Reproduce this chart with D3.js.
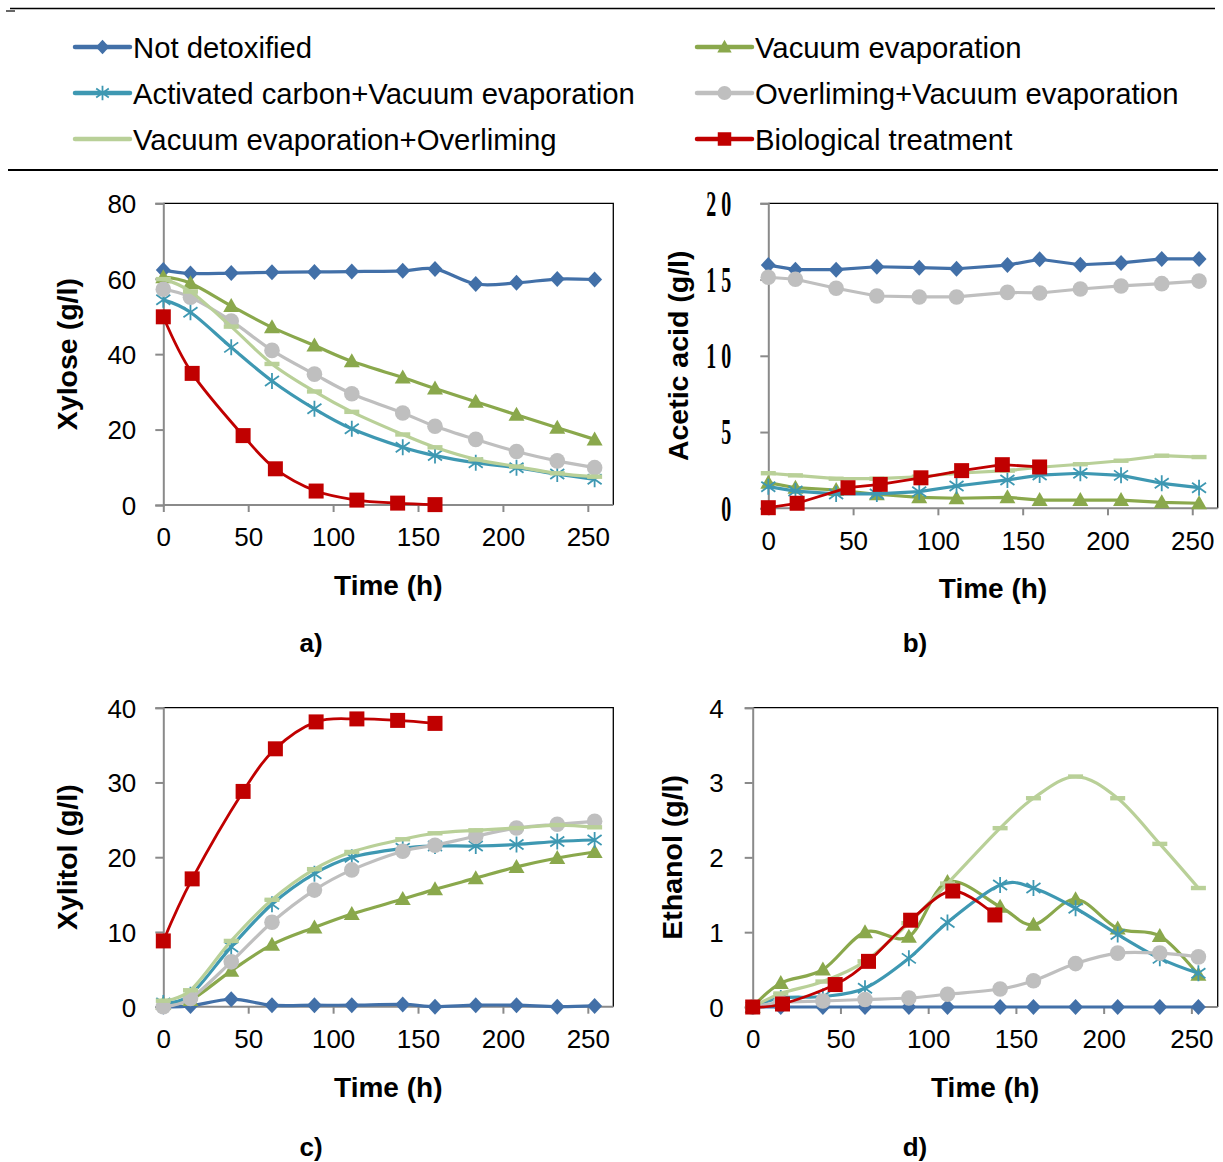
<!DOCTYPE html>
<html><head><meta charset="utf-8">
<script src="https://cdn.jsdelivr.net/npm/d3@7"></script>
<style>
html,body{margin:0;padding:0;background:#fff;}
svg{display:block;font-family:"Liberation Sans",Arial,sans-serif;}
</style></head>
<body>
<svg id="chart" width="1223" height="1162"></svg>
<script>
// ---------------- DATA ----------------
const seriesNames = ["Not detoxified","Vacuum evaporation","Activated carbon+Vacuum evaporation","Overliming+Vacuum evaporation","Vacuum evaporation+Overliming","Biological treatment"];
const timesMain = [0,16,40,64,89,111,141,160,184,208,232,254];
const timesBio  = [0,17,47,66,90,114,138,160];
const xTicks = [0,50,100,150,200,250];

// a) Xylose (g/l)
const xyloseNotDetox    = [62.3,61.4,61.5,61.7,61.8,61.9,62.1,62.6,58.6,58.9,59.9,59.8];
const xyloseVacEvap     = [60.4,58.8,52.8,47.1,42.3,38.1,33.8,30.9,27.4,23.9,20.5,17.4];
const xyloseACVacEvap   = [54.4,51.1,41.8,32.9,25.5,20.2,15.3,13.1,11.2,9.9,8.2,6.8];
const xyloseOverVacEvap = [57.2,55.1,48.8,41.0,34.7,29.5,24.4,20.9,17.4,14.2,11.7,9.9];
const xyloseVacEvapOver = [59.9,56.6,47.3,37.4,30.1,24.7,18.7,15.3,12.1,10.2,8.4,7.5];
const xyloseBio         = [49.9,34.9,18.4,9.6,3.7,1.3,0.5,0.1];
const xyloseTicks = [0,20,40,60,80];

// b) Acetic acid (g/l)
const aceticNotDetox    = [15.95,15.65,15.65,15.84,15.78,15.71,15.95,16.33,15.97,16.09,16.35,16.35];
const aceticVacEvap     = [1.68,1.35,1.2,0.92,0.72,0.66,0.72,0.54,0.54,0.54,0.39,0.33];
const aceticACVacEvap   = [1.42,1.13,0.94,0.94,1.09,1.46,1.86,2.18,2.3,2.16,1.64,1.35];
const aceticOverVacEvap = [15.15,15.02,14.43,13.92,13.86,13.86,14.16,14.12,14.38,14.58,14.73,14.9];
const aceticVacEvapOver = [2.3,2.16,1.94,1.94,2.07,2.3,2.47,2.69,2.89,3.12,3.45,3.36];
const aceticBio         = [0.04,0.33,1.35,1.57,2.0,2.47,2.86,2.71];
const aceticTicks = [0,5,10,15,20];

// c) Xylitol (g/l)
const xylitolNotDetox    = [0,0.1,1.0,0.2,0.2,0.2,0.3,0,0.2,0.2,0,0.1];
const xylitolVacEvap     = [0.4,0.9,4.8,8.3,10.6,12.4,14.4,15.7,17.2,18.7,19.9,20.7];
const xylitolACVacEvap   = [0.5,1.6,8.0,13.7,17.8,20.0,21.2,21.5,21.5,21.7,22.1,22.3];
const xylitolOverVacEvap = [0,1.1,6.0,11.3,15.6,18.3,20.8,21.6,22.8,23.9,24.4,24.8];
const xylitolVacEvapOver = [0.8,2.2,8.8,14.3,18.4,20.7,22.4,23.2,23.6,23.9,24.3,24.0];
const xylitolBio         = [8.8,17.1,28.8,34.5,38.1,38.5,38.3,37.9];
const xylitolTicks = [0,10,20,30,40];

// d) Ethanol (g/l)
const ethanolNotDetox    = [0,0,0,0,0,0,0,0,0,0,0,0];
const ethanolVacEvap     = [0,0.32,0.5,1.0,0.94,1.67,1.34,1.1,1.44,1.05,0.95,0.43];
const ethanolACVacEvap   = [0,0.12,0.14,0.25,0.65,1.13,1.63,1.59,1.32,0.97,0.65,0.45];
const ethanolOverVacEvap = [0,0.06,0.08,0.1,0.12,0.17,0.24,0.35,0.58,0.72,0.72,0.67];
const ethanolVacEvapOver = [0,0.18,0.34,0.61,1.12,1.65,2.39,2.79,3.08,2.79,2.18,1.59];
const ethanolBio         = [0,0.04,0.3,0.61,1.16,1.55,1.23];
const ethanolTicks = [0,1,2,3,4];

// ---------------- STYLE ----------------
const colors = ["#4270A8","#8AA84C","#3E98B2","#BFBFBF","#B9D098","#C00000"];
const markerPaths = [
  "M0,-8L7.5,0L0,8L-7.5,0Z",                       // diamond
  "M0,-8L8,6L-8,6Z",                                // triangle
  "M0,-8V8M-7,-5L7,5M-7,5L7,-5",                    // asterisk
  null,                                             // circle
  "M-7.5,-2.2H7.5V2.2H-7.5Z",                       // dash
  "M-7.5,-7.5H7.5V7.5H-7.5Z"                        // square
];

const svg = d3.select("#chart");
const font = '"Liberation Sans",Arial,sans-serif';

function drawMarker(g, i, x, y, scale) {
  scale = scale || 1;
  const c = colors[i];
  if (i === 3) {
    g.append("circle").attr("cx", x).attr("cy", y).attr("r", 7.8*scale).attr("fill", c);
  } else if (i === 2) {
    g.append("path").attr("d", markerPaths[i]).attr("transform", `translate(${x},${y}) scale(${scale})`)
      .attr("fill","none").attr("stroke", c).attr("stroke-width", 1.8/scale);
  } else {
    g.append("path").attr("d", markerPaths[i]).attr("transform", `translate(${x},${y}) scale(${scale})`)
      .attr("fill", c);
  }
}

// ---------------- LEGEND ----------------
svg.append("line").attr("x1",10).attr("x2",1215).attr("y1",8.5).attr("y2",8.5).attr("stroke","#000").attr("stroke-width",1.3);
svg.append("line").attr("x1",6).attr("x2",15).attr("y1",11).attr("y2",11).attr("stroke","#000").attr("stroke-width",1.2);
svg.append("line").attr("x1",8).attr("x2",1218).attr("y1",170).attr("y2",170).attr("stroke","#000").attr("stroke-width",2);

const legendPos = [[75,47],[697,47],[75,93],[697,93],[75,139],[697,139]];
const lg = svg.append("g");
seriesNames.forEach((name, i) => {
  const [lx, ly] = legendPos[i];
  lg.append("line").attr("x1", lx).attr("x2", lx+55).attr("y1", ly).attr("y2", ly)
    .attr("stroke", colors[i]).attr("stroke-width", 4.5).attr("stroke-linecap","round");
  drawMarker(lg, i, lx+27.5, ly, 0.9);
  lg.append("text").attr("x", lx+58).attr("y", ly).attr("dy","0.36em")
    .attr("font-size", 29.3).attr("fill","#000").text(name);
});

// ---------------- PANELS ----------------
const panels = [
  {letter:"a)", title:"Xylose (g/l)", box:[163.3,613.3,203.3,505], yMax:80, ticks:xyloseTicks,
   series:[xyloseNotDetox,xyloseVacEvap,xyloseACVacEvap,xyloseOverVacEvap,xyloseVacEvapOver,xyloseBio],
   titleX:67, pad:19, smooth:true, serifY:false, labX:311, labY:643},
  {letter:"b)", title:"Acetic acid (g/l)", box:[768.3,1217.7,203.3,508.3], yMax:20, ticks:aceticTicks,
   series:[aceticNotDetox,aceticVacEvap,aceticACVacEvap,aceticOverVacEvap,aceticVacEvapOver,aceticBio],
   titleX:678, pad:29, smooth:false, serifY:true, labX:915, labY:643},
  {letter:"c)", title:"Xylitol (g/l)", box:[163.3,613.3,707.7,1006.7], yMax:40, ticks:xylitolTicks,
   series:[xylitolNotDetox,xylitolVacEvap,xylitolACVacEvap,xylitolOverVacEvap,xylitolVacEvapOver,xylitolBio],
   titleX:67, pad:19, smooth:true, serifY:false, labX:311, labY:1147},
  {letter:"d)", title:"Ethanol (g/l)", box:[752.7,1217.7,707.7,1007], yMax:4, ticks:ethanolTicks,
   series:[ethanolNotDetox,ethanolVacEvap,ethanolACVacEvap,ethanolOverVacEvap,ethanolVacEvapOver,ethanolBio],
   titleX:672, pad:21, smooth:true, serifY:false, labX:915, labY:1147}
];

panels.forEach(p => {
  const [x0,x1,yT,yB] = p.box;
  const x = d3.scaleLinear().domain([0,265]).range([x0,x1]);
  const y = d3.scaleLinear().domain([0,p.yMax]).range([yB,yT]);
  const g = svg.append("g");

  // frame top/right
  g.append("path").attr("d", `M${x0},${yT}H${x1}V${yB}`).attr("fill","none").attr("stroke","#000").attr("stroke-width",1.3);

  // y axis
  const ya = d3.axisLeft(y).tickValues(p.ticks).tickFormat(d3.format("d")).tickSize(8).tickPadding(p.pad).tickSizeOuter(8);
  const yg = g.append("g").attr("transform",`translate(${x0},0)`).call(ya);
  yg.select(".domain").attr("stroke","#8a8a8a").attr("stroke-width",2);
  yg.selectAll(".tick line").attr("stroke","#8a8a8a").attr("stroke-width",2);
  if (p.serifY) {
    yg.selectAll(".tick text").attr("font-family",'"Liberation Serif","Times New Roman",serif')
      .attr("font-weight","bold").attr("font-size",35).attr("fill","#000").attr("dy","0.34em")
      .text(d => String(d).split("").join(" "))
      .attr("textLength", d => d >= 10 ? 25 : 10).attr("lengthAdjust","spacingAndGlyphs");
  } else {
    yg.selectAll(".tick text").attr("font-family",font).attr("font-size",26).attr("fill","#000").attr("dy","0.36em");
  }

  // x axis
  const xa = d3.axisBottom(x).tickValues(xTicks).tickFormat(d3.format("d")).tickSize(7).tickPadding(16).tickSizeOuter(0);
  const xg = g.append("g").attr("transform",`translate(0,${yB})`).call(xa);
  xg.select(".domain").attr("stroke","#8a8a8a").attr("stroke-width",2).attr("d", `M${x0},0H${x1}`);
  xg.selectAll(".tick line").attr("stroke","#8a8a8a").attr("stroke-width",2);
  xg.selectAll(".tick text").attr("font-family",font).attr("font-size",26).attr("fill","#000");

  // titles
  g.append("text").attr("transform",`translate(${p.titleX},${(yT+yB)/2}) rotate(-90)`)
    .attr("text-anchor","middle").attr("dy","0.36em").attr("font-weight","bold").attr("font-size",28.5)
    .text(p.title);
  g.append("text").attr("x",(x0+x1)/2).attr("y", yB+80).attr("text-anchor","middle").attr("dy","0.36em")
    .attr("font-weight","bold").attr("font-size",28).text("Time (h)");
  g.append("text").attr("x",p.labX).attr("y",p.labY).attr("text-anchor","middle").attr("dy","0.36em")
    .attr("font-weight","bold").attr("font-size",26).text(p.letter);

  // series
  const line = d3.line().x(d => x(d[0])).y(d => y(d[1]))
    .curve(p.smooth ? d3.curveCatmullRom.alpha(0) : d3.curveLinear);
  p.series.forEach((vals, i) => {
    const times = i === 5 ? timesBio : timesMain;
    const pts = vals.map((v, k) => [times[k], v]);
    g.append("path").attr("d", line(pts)).attr("fill","none").attr("stroke", colors[i])
      .attr("stroke-width", i === 5 ? 2.8 : 3.2).attr("stroke-linejoin","round");
    const mg = g.append("g");
    pts.forEach(pt => drawMarker(mg, i, x(pt[0]), y(pt[1]), 1));
  });
});
</script>
</body></html>
